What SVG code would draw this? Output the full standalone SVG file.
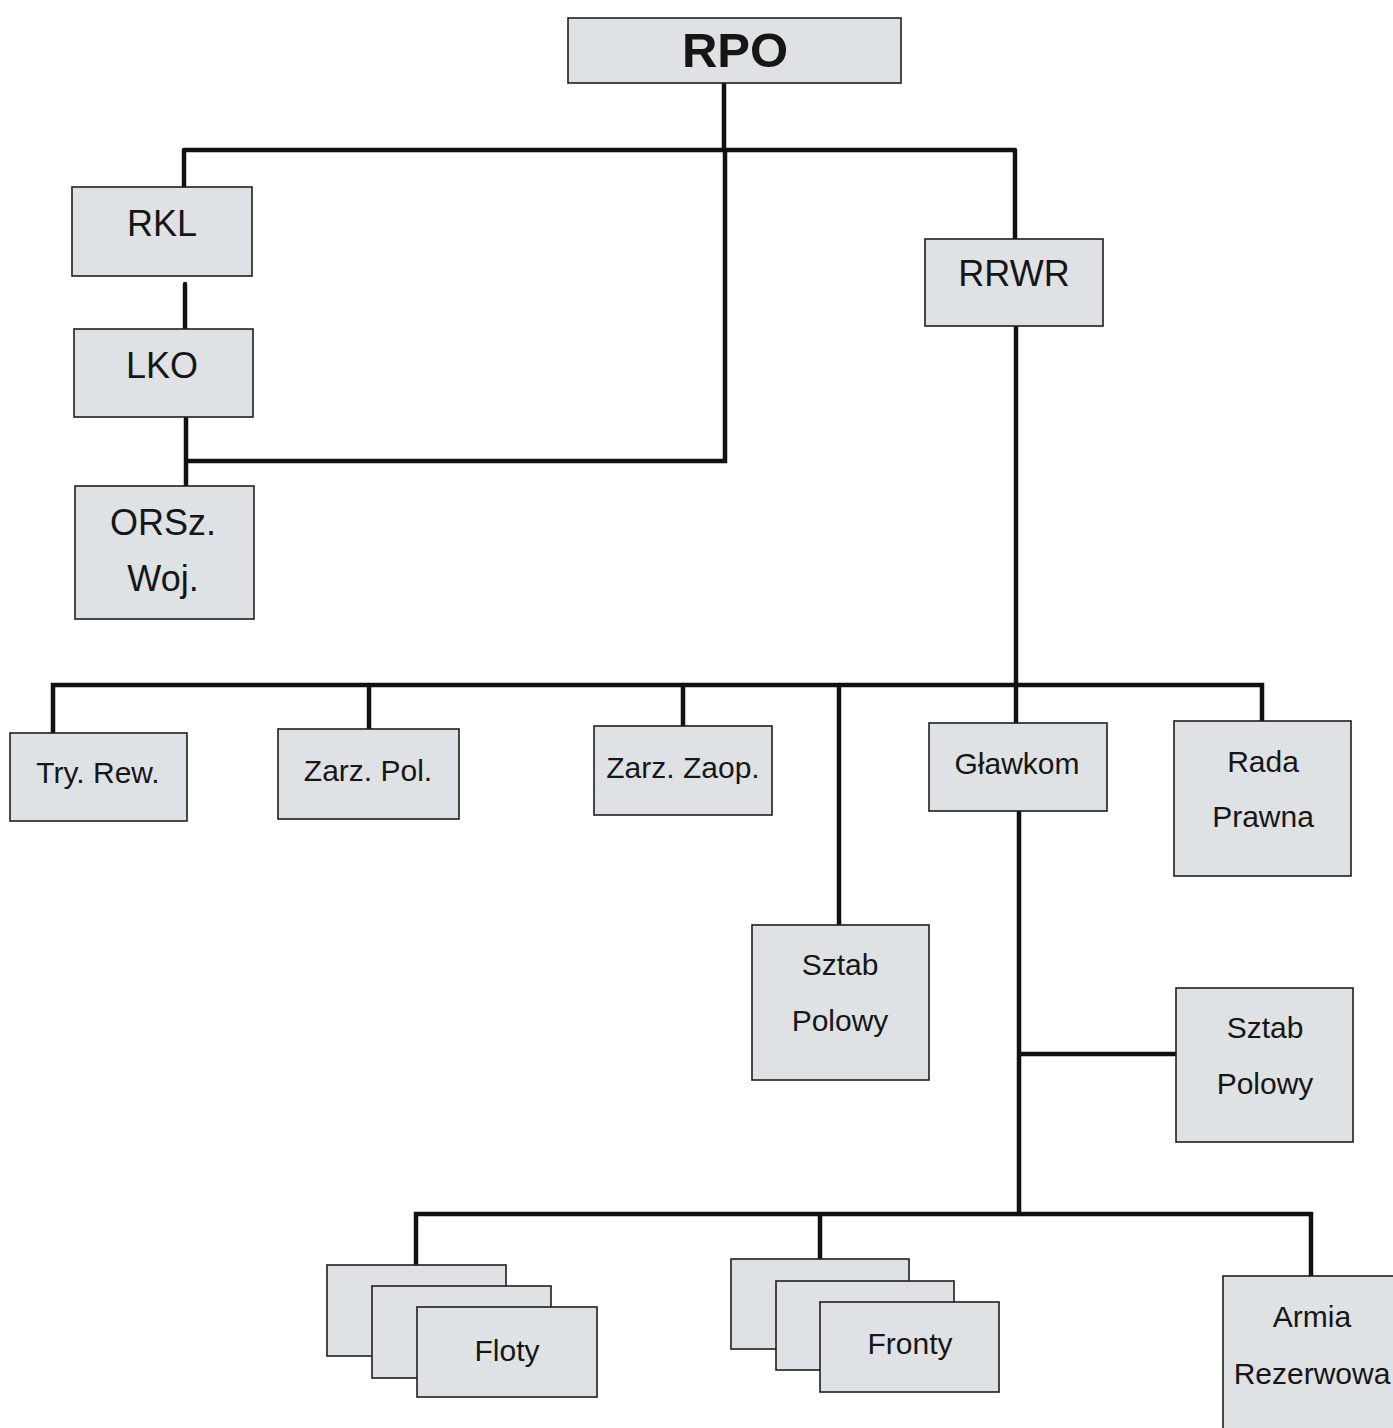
<svg xmlns="http://www.w3.org/2000/svg" width="1393" height="1428" viewBox="0 0 1393 1428">
<style>
.box{fill:#dfe2e4;stroke:#1e1e1e;stroke-width:1.6}
.t{font-family:"Liberation Sans",Arial,sans-serif;font-size:36px;fill:#161616;text-anchor:middle}
.s{font-size:30px}
.c{stroke:#111;stroke-width:4.5;fill:none;stroke-linecap:round}
</style>
<rect width="1393" height="1428" fill="#ffffff"/>
<g id="connectors">
<path class="c" d="M724 83V150M184 150H1015M184 150V187M1015 150V239"/>
<path class="c" d="M725 150V461H187"/>
<path class="c" d="M185 284V329M186 417V486"/>
<path class="c" d="M1016 326V723"/>
<path class="c" d="M53 733V685H1262V721"/>
<path class="c" d="M369 685V729M683 685V726M839 685V925"/>
<path class="c" d="M1019 811V1214M1019 1054H1176"/>
<path class="c" d="M416 1265V1214H1311V1276M820 1214V1259"/>
</g>
<g id="RPO"><rect class="box" x="568" y="18" width="333" height="65"/><text class="t" x="735" y="67" style="font-size:49px;font-weight:bold">RPO</text></g>
<g id="RKL"><rect class="box" x="72" y="187" width="180" height="89"/><text class="t" x="162" y="236">RKL</text></g>
<g id="LKO"><rect class="box" x="74" y="329" width="179" height="88"/><text class="t" x="162" y="378">LKO</text></g>
<g id="ORSz"><rect class="box" x="75" y="486" width="179" height="133"/><text class="t" x="163" y="535">ORSz.</text><text class="t" x="163" y="591">Woj.</text></g>
<g id="RRWR"><rect class="box" x="925" y="239" width="178" height="87"/><text class="t" x="1014" y="286">RRWR</text></g>
<g id="TryRew"><rect class="box" x="10" y="733" width="177" height="88"/><text class="t s" x="98" y="783">Try. Rew.</text></g>
<g id="ZarzPol"><rect class="box" x="278" y="729" width="181" height="90"/><text class="t s" x="368" y="781">Zarz. Pol.</text></g>
<g id="ZarzZaop"><rect class="box" x="594" y="726" width="178" height="89"/><text class="t s" x="683" y="778">Zarz. Zaop.</text></g>
<g id="Glawkom"><rect class="box" x="929" y="723" width="178" height="88"/><text class="t s" x="1017" y="774">Gławkom</text></g>
<g id="RadaPrawna"><rect class="box" x="1174" y="721" width="177" height="155"/><text class="t s" x="1263" y="772">Rada</text><text class="t s" x="1263" y="827">Prawna</text></g>
<g id="SztabPolowy1"><rect class="box" x="752" y="925" width="177" height="155"/><text class="t s" x="840" y="975">Sztab</text><text class="t s" x="840" y="1031">Polowy</text></g>
<g id="SztabPolowy2"><rect class="box" x="1176" y="988" width="177" height="154"/><text class="t s" x="1265" y="1038">Sztab</text><text class="t s" x="1265" y="1094">Polowy</text></g>
<g id="Floty">
<rect class="box" x="327" y="1265" width="179" height="91"/>
<rect class="box" x="372" y="1286" width="179" height="92"/>
<rect class="box" x="417" y="1307" width="180" height="90"/>
<text class="t s" x="507" y="1361">Floty</text></g>
<g id="Fronty">
<rect class="box" x="731" y="1259" width="178" height="90"/>
<rect class="box" x="776" y="1281" width="178" height="89"/>
<rect class="box" x="820" y="1302" width="179" height="90"/>
<text class="t s" x="910" y="1354">Fronty</text></g>
<g id="ArmiaRezerwowa"><rect class="box" x="1223" y="1276" width="185" height="170"/><text class="t s" x="1312" y="1327">Armia</text><text class="t s" x="1312" y="1384">Rezerwowa</text></g>
</svg>
